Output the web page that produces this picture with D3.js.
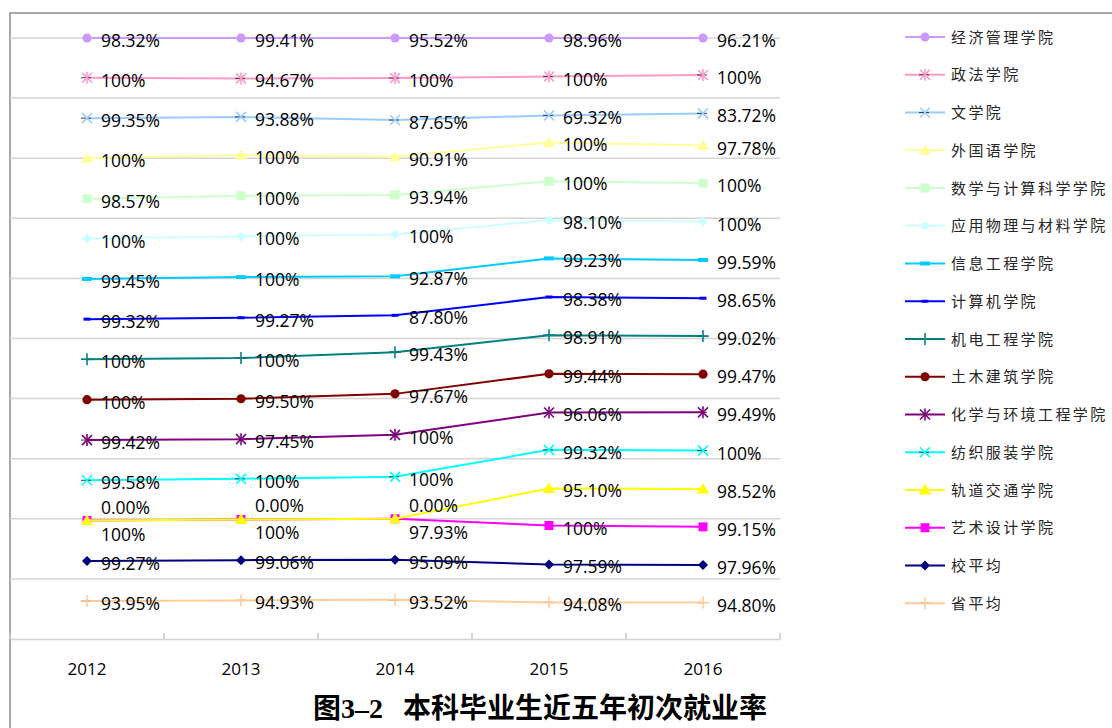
<!DOCTYPE html>
<html>
<head>
<meta charset="utf-8">
<script src="https://cdn.jsdelivr.net/npm/d3@7"></script>
<style>
  body { margin: 0; background: #fff; }
  svg { display: block; }
</style>
</head>
<body>
<div id="chart"></div>
<script>
// Data (legend order, top to bottom)
const years = ["2012", "2013", "2014", "2015", "2016"]
const colleges = [
    "经济管理学院", "政法学院", "文学院", "外国语学院", "数学与计算科学学院",
    "应用物理与材料学院", "信息工程学院", "计算机学院", "机电工程学院", "土木建筑学院",
    "化学与环境工程学院", "纺织服装学院", "轨道交通学院", "艺术设计学院", "校平均", "省平均"
]
const rates = [
    [0.9832, 0.9941, 0.9552, 0.9896, 0.9621],
    [1, 0.9467, 1, 1, 1],
    [0.9935, 0.9388, 0.8765, 0.6932, 0.8372],
    [1, 1, 0.9091, 1, 0.9778],
    [0.9857, 1, 0.9394, 1, 1],
    [1, 1, 1, 0.9810, 1],
    [0.9945, 1, 0.9287, 0.9923, 0.9959],
    [0.9932, 0.9927, 0.8780, 0.9838, 0.9865],
    [1, 1, 0.9943, 0.9891, 0.9902],
    [1, 0.9950, 0.9767, 0.9944, 0.9947],
    [0.9942, 0.9745, 1, 0.9606, 0.9949],
    [0.9958, 1, 1, 0.9932, 1],
    [0, 0, 0, 0.9510, 0.9852],
    [1, 1, 0.9793, 1, 0.9915],
    [0.9927, 0.9906, 0.9509, 0.9759, 0.9796],
    [0.9395, 0.9493, 0.9352, 0.9408, 0.9480]
]
const titleNo = "图3–2"
const titleText = "本科毕业生近五年初次就业率"

// Styles
const lineColors = [
    "#CC99FF", "#FF99CC", "#99CCFF", "#FFFF99", "#CCFFCC",
    "#CCFFFF", "#00CCFF", "#0000FF", "#008080", "#800000",
    "#800080", "#00FFFF", "#FFFF00", "#FF00FF", "#000080", "#FFCC99"
]
const markerShapes = [
    "circle", "star", "x", "triangle", "square",
    "diamond", "dash", "dashSmall", "plus", "circle",
    "star", "x", "triangle", "square", "diamond", "plus"
]

const W = 1112, H = 728
const svg = d3.select("#chart").append("svg")
    .attr("width", W)
    .attr("height", H)

// chart area border (runs off the right and bottom edges)
svg.append("rect")
    .attr("x", 10).attr("y", 13)
    .attr("width", 1200).attr("height", 800)
    .attr("fill", "none")
    .attr("stroke", "#8c8c8c")
    .attr("stroke-width", 1.5)

const x = d3.scaleBand().domain(years).range([10, 780])
const y = d3.scaleLinear().domain([0, 1]).range([639, 38])
const cx = d => x(d) + x.bandwidth() / 2

// gridlines
svg.append("g").selectAll("line")
    .data(y.ticks(10).filter(t => t > 0))
    .join("line")
    .attr("x1", 10).attr("x2", 780)
    .attr("y1", d => y(d)).attr("y2", d => y(d))
    .attr("stroke", "#d4d4d4")
    .attr("stroke-width", 1.5)

// category axis
const axis = svg.append("g")
    .attr("transform", `translate(0,${y(0)})`)
    .call(d3.axisBottom(x).tickSize(0).tickPadding(24))
axis.select(".domain").attr("stroke", "#d4d4d4").attr("stroke-width", 1.5)
axis.selectAll("text")
    .attr("font-family", "'Open Sans', sans-serif")
    .attr("font-size", 17)
    .attr("fill", "#000")
// boundary tick marks
svg.append("g").selectAll("line")
    .data(d3.range(years.length + 1))
    .join("line")
    .attr("x1", i => 10 + i * x.step()).attr("x2", i => 10 + i * x.step())
    .attr("y1", y(0) - 6).attr("y2", y(0))
    .attr("stroke", "#c8c8c8")
    .attr("stroke-width", 1.5)

// 100% stacked lines
const rows = years.map((yr, j) => {
    const r = { year: yr }
    colleges.forEach((c, i) => { r[c] = rates[i][j] })
    return r
})
const stackKeys = colleges.slice().reverse()
const layers = d3.stack().keys(stackKeys).offset(d3.stackOffsetExpand)(rows)

function drawMarker(g, shape, color, px, py) {
    const cross = (pts) => pts.forEach(p => g.append("line")
        .attr("x1", px + p[0]).attr("y1", py + p[1])
        .attr("x2", px + p[2]).attr("y2", py + p[3])
        .attr("stroke", color).attr("stroke-width", 1.6))
    if (shape === "circle") {
        g.append("circle").attr("cx", px).attr("cy", py).attr("r", 4.6).attr("fill", color)
    } else if (shape === "square") {
        g.append("rect").attr("x", px - 4.5).attr("y", py - 4.5).attr("width", 9).attr("height", 9).attr("fill", color)
    } else if (shape === "triangle") {
        g.append("path").attr("transform", `translate(${px},${py + 1})`)
            .attr("d", d3.symbol(d3.symbolTriangle, 66)()).attr("fill", color)
    } else if (shape === "diamond") {
        g.append("path").attr("transform", `translate(${px},${py})`)
            .attr("d", "M0,-5L5,0L0,5L-5,0Z").attr("fill", color)
    } else if (shape === "dash") {
        g.append("rect").attr("x", px - 5).attr("y", py - 2).attr("width", 10).attr("height", 4).attr("fill", color)
    } else if (shape === "dashSmall") {
        g.append("rect").attr("x", px - 3.5).attr("y", py - 1.5).attr("width", 7).attr("height", 3).attr("fill", color)
    } else {
        // cross-type markers carry a thin dark bar, as in the original rendering
        g.append("line").attr("x1", px - 6).attr("x2", px + 4).attr("y1", py).attr("y2", py)
            .attr("stroke", "#3a3a3a").attr("stroke-width", 1)
        if (shape === "x" || shape === "star") cross([[-5, -5, 5, 5], [-5, 5, 5, -5]])
        if (shape === "star") cross([[0, -6, 0, 6]])
        if (shape === "plus") cross([[-6, 0, 6, 0], [0, -6, 0, 6]])
    }
}

const line = d3.line()
    .x(d => cx(d.data.year))
    .y(d => y(d[1]))

const plot = svg.append("g")
layers.forEach(layer => {
    const i = colleges.indexOf(layer.key)
    const g = plot.append("g")
    g.append("path")
        .datum(layer)
        .attr("d", line)
        .attr("fill", "none")
        .attr("stroke", lineColors[i])
        .attr("stroke-width", 2)
    layer.forEach(d => drawMarker(g, markerShapes[i], lineColors[i], cx(d.data.year), y(d[1])))
})

// data labels; where two series sit on the same point, the upper label moves up, the lower one down
const fmt = v => v === 1 ? "100%" : d3.format(".2%")(v)
const labels = svg.append("g")
    .attr("font-family", "'Open Sans', sans-serif")
    .attr("font-size", 17.5)
    .attr("fill", "#000")
layers.forEach((layer, li) => {
    const i = colleges.indexOf(layer.key)
    layer.forEach((d, j) => {
        let shift = 0
        if (li > 0 && Math.abs(layers[li - 1][j][1] - d[1]) < 1e-9) shift = -16
        if (li < layers.length - 1 && Math.abs(layers[li + 1][j][1] - d[1]) < 1e-9) shift = 11
        labels.append("text")
            .attr("x", cx(d.data.year) + 14)
            .attr("y", y(d[1]) + 9 + shift)
            .text(fmt(rates[i][j]))
    })
})

// legend
const legend = svg.append("g")
colleges.forEach((c, i) => {
    const ly = 37 + i * 37.75
    const g = legend.append("g")
    g.append("line")
        .attr("x1", 905).attr("x2", 945)
        .attr("y1", ly).attr("y2", ly)
        .attr("stroke", lineColors[i])
        .attr("stroke-width", 2)
    drawMarker(g, markerShapes[i], lineColors[i], 925, ly)
    g.append("text")
        .attr("x", 951).attr("y", ly + 5.5)
        .attr("font-family", "'Noto Sans CJK SC', sans-serif")
        .attr("font-size", 15)
        .attr("letter-spacing", 2.4)
        .attr("fill", "#262626")
        .text(c)
})

// title
const title = svg.append("text")
    .attr("x", 313).attr("y", 718)
    .attr("font-family", "'Liberation Serif', 'Noto Sans CJK SC', serif")
    .attr("font-size", 28)
    .attr("font-weight", "bold")
    .attr("fill", "#000")
title.append("tspan").text(titleNo)
title.append("tspan").attr("x", 403).text(titleText)
</script>
</body>
</html>
